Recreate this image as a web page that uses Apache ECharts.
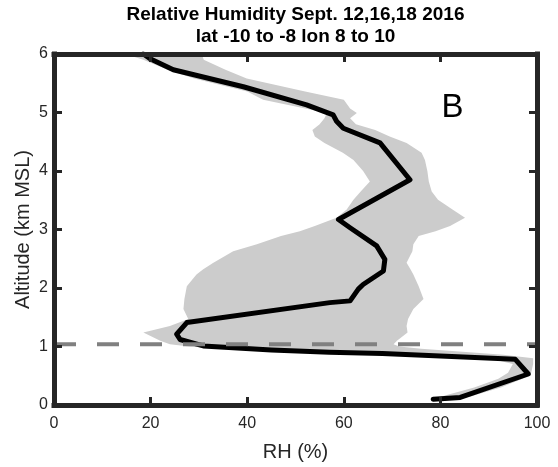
<!DOCTYPE html>
<html>
<head>
<meta charset="utf-8">
<script src="https://cdn.jsdelivr.net/npm/echarts@6/dist/echarts.min.js"></script>
<style>html,body{margin:0;padding:0;background:#fff}#c{width:558px;height:467px}</style>
</head>
<body>
<div id="c"></div>
<script>
// ---- data ----
const titleLines = ['Relative Humidity Sept. 12,16,18 2016', 'lat -10 to -8 lon 8 to 10'];
const xName = 'RH (%)';
const yName = 'Altitude (km MSL)';
const panelLabel = 'B';
const xTicks = [0, 20, 40, 60, 80, 100];
const yTicks = [0, 1, 2, 3, 4, 5, 6];

// mean profile: RH (%) and altitude (km), in drawing order
const meanRH  = [78.5, 84.1, 98.2, 95.5, 68, 57, 45, 30.9, 26.1, 25.4, 27.5, 57.1, 61.3, 63, 64, 68.2, 68.5, 66.8, 61.3, 58.9, 73.7, 67.5, 59.9, 58.5, 57.8, 52.3, 39.2, 24.7, 19.9, 18.5];
const meanAlt = [0.10, 0.13, 0.53, 0.78, 0.88, 0.90, 0.94, 1.01, 1.12, 1.21, 1.41, 1.75, 1.78, 1.98, 2.06, 2.29, 2.49, 2.72, 3.03, 3.17, 3.85, 4.48, 4.73, 4.85, 4.96, 5.13, 5.44, 5.73, 5.92, 6.00];

// spread band: altitude levels with low / high RH
const bandAlt  = [0.10, 0.14, 0.30, 0.45, 0.55, 0.70, 0.80, 0.86, 0.90, 0.96, 1.00, 1.04, 1.10, 1.24, 1.35, 1.47, 1.64, 1.81, 2.03, 2.23, 2.32, 2.43, 2.63, 2.75, 2.89, 2.97, 3.06, 3.20, 3.34, 3.51, 3.65, 3.82, 4.00, 4.19, 4.31, 4.48, 4.59, 4.70, 4.80, 4.90, 4.99, 5.07, 5.22, 5.36, 5.58, 5.73, 5.90, 6.00];
const bandLow  = [78.5, 80, 87, 92, 94, 95, 90, 72, 55, 35, 28, 24, 22, 18.5, 24, 27.8, 26.8, 27, 27.5, 29.5, 30.9, 33, 37.1, 42, 47, 50.9, 54, 58.5, 60.6, 62, 63.5, 65.4, 64, 62, 59.8, 56, 54, 53.5, 55, 56, 56.5, 52, 43.3, 40, 29, 23.5, 18.5, 14.7];
const bandHigh = [80.5, 86, 92.5, 97, 98.8, 99.2, 99.2, 93, 86, 76, 71.5, 70.3, 71, 73.2, 73, 73.3, 74.4, 76.5, 75.5, 74.4, 73.8, 73, 74.2, 74.4, 75.5, 79, 82, 85.1, 82.5, 79.5, 78.2, 77.6, 77.3, 76.8, 76.1, 73, 69.5, 66.5, 62.5, 61.3, 62.7, 61.3, 60, 52, 39.9, 35.5, 31, 30.6];

// boundary-layer reference altitude
const refAlt = 1.04;

// ---- build ----
const meanData = meanRH.map((v, i) => [v, meanAlt[i]]);
const bandPoly = [];
for (let i = 0; i < bandAlt.length; i++) bandPoly.push([bandLow[i], bandAlt[i]]);
for (let i = bandAlt.length - 1; i >= 0; i--) bandPoly.push([bandHigh[i], bandAlt[i]]);

const FONT = "'Liberation Sans', Arial, Helvetica, sans-serif";
const AX = '#262626';

function axisBase(extra) {
  return Object.assign({
    type: 'value',
    z: 10,
    nameMoveOverlap: false,
    axisLine: { show: true, onZero: false, lineStyle: { color: AX, width: 5, cap: 'square' } },
    axisTick: { show: true, inside: true, length: 8, lineStyle: { color: AX, width: 3 } },
    splitLine: { show: false },
    axisLabel: { color: AX, fontSize: 16, fontFamily: FONT }
  }, extra);
}

const chart = echarts.init(document.getElementById('c'), null, { renderer: 'canvas' });
chart.setOption({
  animation: false,
  backgroundColor: '#fff',
  grid: { left: 54, right: 21, top: 54, bottom: 61, show: false },
  xAxis: [
    axisBase({ position: 'bottom', min: xTicks[0], max: xTicks[xTicks.length - 1], interval: xTicks[1] - xTicks[0],
      name: xName, nameLocation: 'middle', nameGap: 37,
      nameTextStyle: { color: AX, fontSize: 20, fontFamily: FONT },
      axisLabel: { color: AX, fontSize: 16, fontFamily: FONT, margin: 11 } }),
    axisBase({ position: 'top', min: xTicks[0], max: xTicks[xTicks.length - 1], interval: xTicks[1] - xTicks[0],
      axisLabel: { show: false } })
  ],
  yAxis: [
    axisBase({ position: 'left', min: yTicks[0], max: yTicks[yTicks.length - 1], interval: yTicks[1] - yTicks[0],
      name: yName, nameLocation: 'middle', nameGap: 21,
      nameTextStyle: { color: AX, fontSize: 20, fontFamily: FONT },
      axisLabel: { color: AX, fontSize: 16, fontFamily: FONT, margin: 6 } }),
    axisBase({ position: 'right', min: yTicks[0], max: yTicks[yTicks.length - 1], interval: yTicks[1] - yTicks[0],
      axisLabel: { show: false } })
  ],
  series: [
    {
      type: 'custom',
      xAxisIndex: 0, yAxisIndex: 0,
      z: 1,
      clip: true,
      data: bandPoly,
      encode: { x: 0, y: 1 },
      renderItem: function (params, api) {
        if (params.dataIndex !== 0) return null;
        const pts = bandPoly.map(p => api.coord(p));
        return { type: 'polygon', shape: { points: pts }, style: { fill: '#cccccc', stroke: null } };
      }
    },
    {
      type: 'line',
      xAxisIndex: 0, yAxisIndex: 0,
      z: 3,
      data: meanData,
      symbol: 'none',
      lineStyle: { color: '#000', width: 5, join: 'round', cap: 'round' }
    },
    {
      type: 'line',
      xAxisIndex: 0, yAxisIndex: 0,
      z: 4,
      data: [[xTicks[0], refAlt], [xTicks[xTicks.length - 1], refAlt]],
      symbol: 'none',
      lineStyle: { color: '#808080', width: 4, type: [22, 21] }
    }
  ],
  graphic: [
    { type: 'text', x: 295.5, y: 15, style: { text: titleLines[0], font: 'bold 19px ' + FONT, fill: '#000', textAlign: 'center', textVerticalAlign: 'middle' } },
    { type: 'text', x: 295.5, y: 37, style: { text: titleLines[1], font: 'bold 19px ' + FONT, fill: '#000', textAlign: 'center', textVerticalAlign: 'middle' } },
    { type: 'text', x: 452.5, y: 108, z: 20, style: { text: panelLabel, font: '33px ' + FONT, fill: '#000', textAlign: 'center', textVerticalAlign: 'middle' } }
  ]
});
</script>
</body>
</html>
